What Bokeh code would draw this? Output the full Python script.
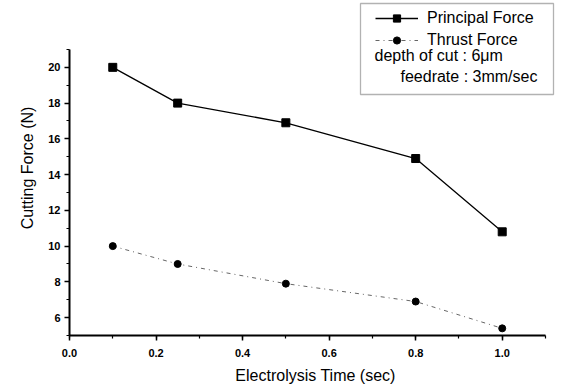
from bokeh.plotting import figure
from bokeh.models import Legend, LegendItem, BoxAnnotation, Label, Range1d, FixedTicker
from bokeh.embed import file_html
from bokeh.resources import INLINE

time_s = [0.1, 0.25, 0.5, 0.8, 1.0]
principal = [20.0, 18.0, 16.9, 14.9, 10.8]
thrust = [10.0, 9.0, 7.9, 6.9, 5.4]
x_ticks = [0.0, 0.2, 0.4, 0.6, 0.8, 1.0]
y_ticks = [6, 8, 10, 12, 14, 16, 18, 20]
note1 = "depth of cut : 6\u03bcm"
note2 = "feedrate : 3mm/sec"

FONT = "Liberation Sans"

# frame spans the canvas to the top/right so the legend box is not clipped;
# the axes themselves are bounded to x 0-1.1 and y 5-21
p = figure(width=561, height=388, output_backend="svg", toolbar_location=None,
           x_range=Range1d(0, 1.137), y_range=Range1d(5, 23.74),
           min_border_left=69, min_border_right=0, min_border_top=0, min_border_bottom=53)
p.outline_line_color = None
p.grid.visible = False
p.background_fill_color = "white"
p.border_fill_color = "white"

l1 = p.line(time_s, principal, line_color="black", line_width=1.3)
s1 = p.scatter(time_s, principal, marker="square", size=8, fill_color="black", line_color="black")
l2 = p.line(time_s, thrust, line_color="#555555", line_width=0.9, line_dash="4 4 1 4")
s2 = p.scatter(time_s, thrust, marker="circle", size=7, fill_color="black", line_color="black")

for ax in (p.xaxis[0], p.yaxis[0]):
    ax.axis_line_width = 2
    ax.axis_line_color = "black"
    ax.major_tick_line_width = 1.5
    ax.minor_tick_line_width = 1.2
    ax.major_tick_in = 0
    ax.major_tick_out = 5
    ax.minor_tick_in = 0
    ax.minor_tick_out = 3
    ax.major_label_text_font = FONT
    ax.major_label_text_font_style = "bold"
    ax.major_label_text_font_size = "11px"
    ax.major_label_text_color = "black"
    ax.axis_label_text_font = FONT
    ax.axis_label_text_font_style = "normal"
    ax.axis_label_text_font_size = "16px"
    ax.axis_label_text_color = "black"

p.xaxis[0].bounds = (0, 1.1)
p.yaxis[0].bounds = (5, 21)
p.xaxis[0].ticker = FixedTicker(ticks=x_ticks, minor_ticks=[i / 10 for i in range(0, 12)])
p.yaxis[0].ticker = FixedTicker(ticks=y_ticks, minor_ticks=list(range(5, 22)))
p.xaxis[0].major_label_overrides = {t: f"{t:.1f}" for t in x_ticks}
p.xaxis[0].axis_label = "Electrolysis Time (sec)"
p.yaxis[0].axis_label = "Cutting Force (N)"
p.xaxis[0].major_label_standoff = 8
p.xaxis[0].axis_label_standoff = 7
p.yaxis[0].major_label_standoff = 4
p.yaxis[0].axis_label_standoff = 9

legend = Legend(items=[LegendItem(label="Principal Force", renderers=[l1, s1]),
                       LegendItem(label="Thrust Force", renderers=[l2, s2])],
                location=(306, 286), padding=0, margin=0, spacing=4,
                glyph_width=43, glyph_height=18, label_height=18, label_standoff=9,
                label_text_font=FONT, label_text_font_size="16px", label_text_color="black",
                background_fill_alpha=0, border_line_alpha=0)
p.add_layout(legend)

box = BoxAnnotation(left=291, right=484, bottom=241, top=332,
                    left_units="screen", right_units="screen", bottom_units="screen", top_units="screen",
                    fill_alpha=0, line_color="black", line_width=1.3)
p.add_layout(box)

p.add_layout(Label(x=305, y=272, x_units="screen", y_units="screen", text=note1,
                   text_font=FONT, text_font_size="16px", text_color="black"))
p.add_layout(Label(x=331, y=251, x_units="screen", y_units="screen", text=note2,
                   text_font=FONT, text_font_size="16px", text_color="black"))

open("out.html", "w").write(file_html(p, INLINE))
